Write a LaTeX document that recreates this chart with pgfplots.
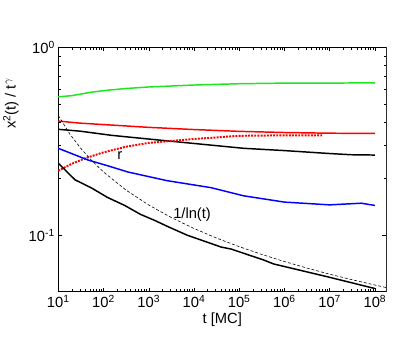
\documentclass[border=0pt]{standalone}
\usepackage{pgfplots}
\pgfplotsset{compat=1.18}
\usepackage{fontspec}
\setmainfont{Liberation Sans}
\begin{document}
\begin{tikzpicture}
\begin{axis}[
    xmode=log, ymode=log,
    scale only axis,
    width=333bp, height=248bp,
    xmin=10, xmax=1.8e8,
    ymin=0.05, ymax=1,
    xtick={1e1,1e2,1e3,1e4,1e5,1e6,1e7,1e8},
    xticklabels={10\textsuperscript{1},10\textsuperscript{2},10\textsuperscript{3},10\textsuperscript{4},10\textsuperscript{5},10\textsuperscript{6},10\textsuperscript{7},10\textsuperscript{8}},
    ytick={0.1,1},
    yticklabels={10\textsuperscript{-1},10\textsuperscript{0}},
    tick align=inside,
    tick style={black, thin},
    major tick length=4bp, minor tick length=2.5bp,
    ticklabel style={font=\fontsize{15}{17}\selectfont},
    xlabel={t [MC]},
    ylabel={x\textsuperscript{2}(t) / t\textsuperscript{$\gamma$}},
    label style={font=\fontsize{15}{17}\selectfont},
    xlabel style={yshift=2bp},
    ylabel style={at={(axis description cs:-0.11,0.77)}},
    axis line style={black, line width=0.8pt},
    clip=true,
]
% green
\addplot[line width=1.5pt, color={rgb,255:red,30;green,230;blue,30}] coordinates {
  (10,0.545) (20,0.553) (50,0.575) (100,0.588) (300,0.603) (1000,0.615)
  (1e4,0.63) (1e5,0.64) (1e6,0.645) (1e7,0.645) (1e8,0.647)
};
% red solid
\addplot[red, line width=1.5pt] coordinates {
  (10,0.405) (30,0.395) (100,0.388) (1000,0.375) (1e4,0.365) (1e5,0.357)
  (1e6,0.352) (1e7,0.349) (1e8,0.348)
};
% black upper
\addplot[black, line width=1.5pt] coordinates {
  (10,0.366) (30,0.358) (151,0.34) (1900,0.32) (1.26e5,0.29)
  (1e6,0.282) (1e7,0.272) (3e7,0.268) (1e8,0.267)
};
% red dotted
\addplot[red, line width=2pt, dash pattern=on 2pt off 1.2pt] coordinates {
  (10,0.22) (20,0.24) (40,0.257) (100,0.276) (300,0.295) (1000,0.31)
  (1e4,0.325) (1e5,0.338) (1e6,0.34) (7e6,0.34)
};
% blue
\addplot[blue, line width=1.5pt] coordinates {
  (10,0.29) (46,0.251) (125,0.234) (345,0.217) (1000,0.205) (2570,0.195)
  (24000,0.179) (1.26e5,0.162) (1e6,0.15) (1e7,0.145) (5e7,0.148) (1e8,0.144)
};
% black lower
\addplot[black, line width=1.5pt] coordinates {
  (10,0.242) (23.6,0.197) (53,0.179) (125,0.1585) (294,0.144) (661,0.129)
  (1340,0.12) (2570,0.1115) (7080,0.1) (39800,0.0865) (66000,0.0844)
  (347000,0.0738) (575440,0.0703) (9.12e6,0.060) (1e8,0.052)
};
% 1/ln(t)
\addplot[black, semithick, densely dashed] coordinates {
  (10,0.4343) (17.78,0.3474) (31.62,0.2895) (56.23,0.2482) (100,0.2171)
  (316.2,0.1737) (1000,0.1448) (3162,0.1241) (1e4,0.1086) (31623,0.0965)
  (1e5,0.0869) (316228,0.0790) (1e6,0.0724) (3.162e6,0.0668) (1e7,0.0620)
  (3.162e7,0.0579) (1e8,0.0543) (1.8e8,0.0526)
};
\node[font=\fontsize{15}{17}\selectfont] at (axis cs:229,0.267) {r};
\node[font=\fontsize{15}{17}\selectfont] at (axis cs:9100,0.129) {1/ln(t)};
\draw[gray, line width=1.5pt] (rel axis cs:1,0) -- (rel axis cs:1,1);
\end{axis}
\path (-53bp,-52bp) rectangle (362bp,296bp);
\end{tikzpicture}
\end{document}
